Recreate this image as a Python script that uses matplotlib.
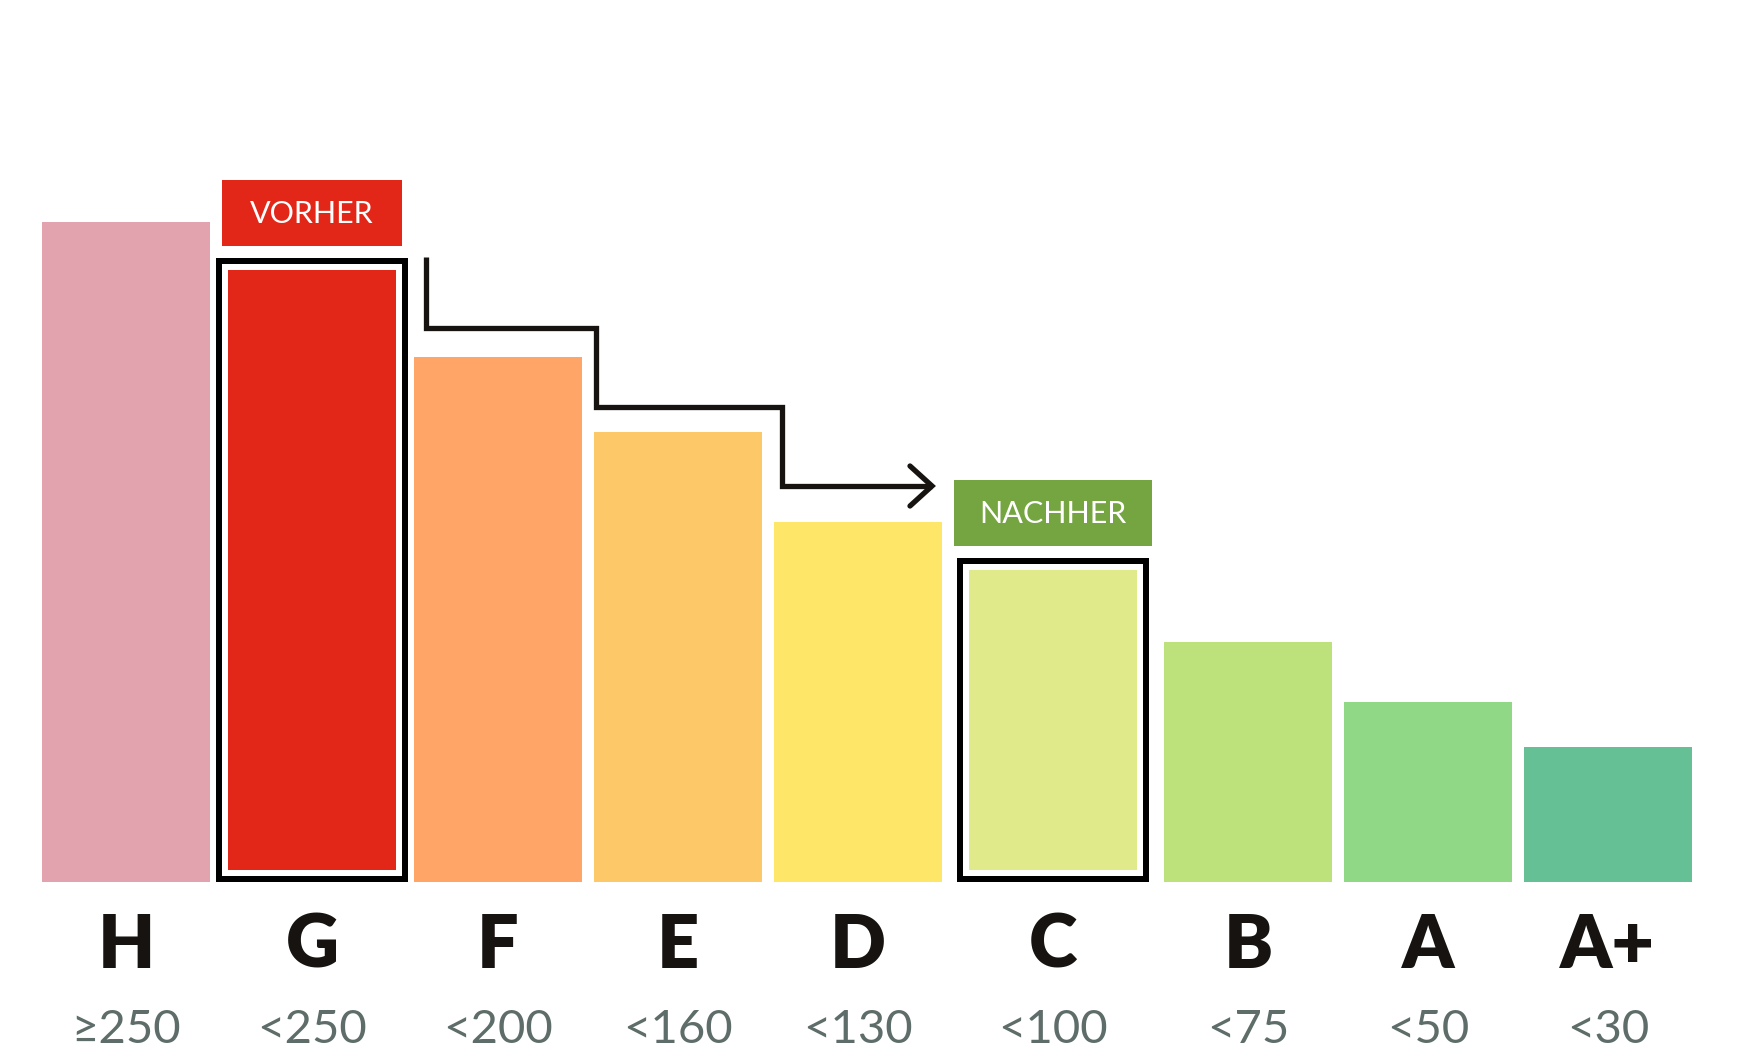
import matplotlib.pyplot as plt
from matplotlib.patches import Rectangle

# energy classes and their bar heights (px-like units above the baseline)
classes = ["H", "G", "F", "E", "D", "C", "B", "A", "A+"]
limits = ["≥250", "<250", "<200", "<160", "<130", "<100", "<75", "<50", "<30"]
heights = [660, 612, 525, 450, 360, 312, 240, 180, 135]
colors = ["#e3a3ae", "#e22718", "#fea567", "#fdc867", "#fee668",
          "#e0ea8a", "#bde17b", "#90d786", "#65c195"]
before_idx = 1   # G
after_idx = 5    # C

# layout
W, H = 1740, 1059
base = 882
bar_w = 168
gaps = [18, 18, 12, 12, 27, 27, 12, 12]
x0 = 42

lefts = [x0]
for g in gaps:
    lefts.append(lefts[-1] + bar_w + g)
centers = [l + bar_w / 2 for l in lefts]

ink = "#161311"
grey = "#5e6d69"
fam = ["Lato", "DejaVu Sans"]

fig = plt.figure(figsize=(W / 100, H / 100), dpi=100)
ax = fig.add_axes([0, 0, 1, 1])
ax.set_xlim(0, W)
ax.set_ylim(base - H, base)
ax.axis("off")

px = 72 / 100  # points per pixel

for i, (c, h, col) in enumerate(zip(centers, heights, colors)):
    if i in (before_idx, after_idx):
        # inner bar lifted a bit, with a black frame around it
        ax.bar(c, h - 12, bottom=12, width=bar_w, color=col, linewidth=0)
        ax.add_patch(Rectangle((lefts[i] - 9, 3), bar_w + 18, h + 6,
                               fill=False, edgecolor="black", lw=6 * px,
                               joinstyle="miter"))
    else:
        ax.bar(c, h, width=bar_w, color=col, linewidth=0)

    ax.text(c, -86, classes[i], ha="center", va="baseline",
            fontsize=53, fontweight="heavy", color=ink, family=fam)
    ax.text(c, -161, limits[i], ha="center", va="baseline",
            fontsize=34, fontweight="normal", color=grey, family=fam)

# VORHER / NACHHER tags
tags = [(before_idx, "VORHER", "#e22718", 180), (after_idx, "NACHHER", "#74a541", 198)]
for i, label, col, tw in tags:
    bottom = heights[i] + 24
    ax.add_patch(Rectangle((centers[i] - tw / 2, bottom), tw, 66,
                           facecolor=col, edgecolor="none"))
    ax.text(centers[i], bottom + 23, label, ha="center", va="baseline",
            fontsize=22, fontweight="normal", color="white", family=fam)

# stepped arrow from G down to C
sx = [lefts[1] + bar_w + 30, lefts[2] + bar_w + 14, lefts[3] + bar_w + 20]
sy = [heights[1] + 13, heights[2] + 29, heights[3] + 25, heights[4] + 36]
tip_x = lefts[4] + bar_w - 10
path_x = [sx[0], sx[0], sx[1], sx[1], sx[2], sx[2], tip_x]
path_y = [sy[0], sy[1], sy[1], sy[2], sy[2], sy[3], sy[3]]
ax.plot(path_x, path_y, color=ink, lw=5.3 * px, solid_joinstyle="miter",
        solid_capstyle="butt")
ax.plot([tip_x - 22, tip_x, tip_x - 22], [sy[3] + 20, sy[3], sy[3] - 20],
        color=ink, lw=5.3 * px, solid_joinstyle="miter", solid_capstyle="round")

fig.savefig("out.png", dpi=100, facecolor="white")
